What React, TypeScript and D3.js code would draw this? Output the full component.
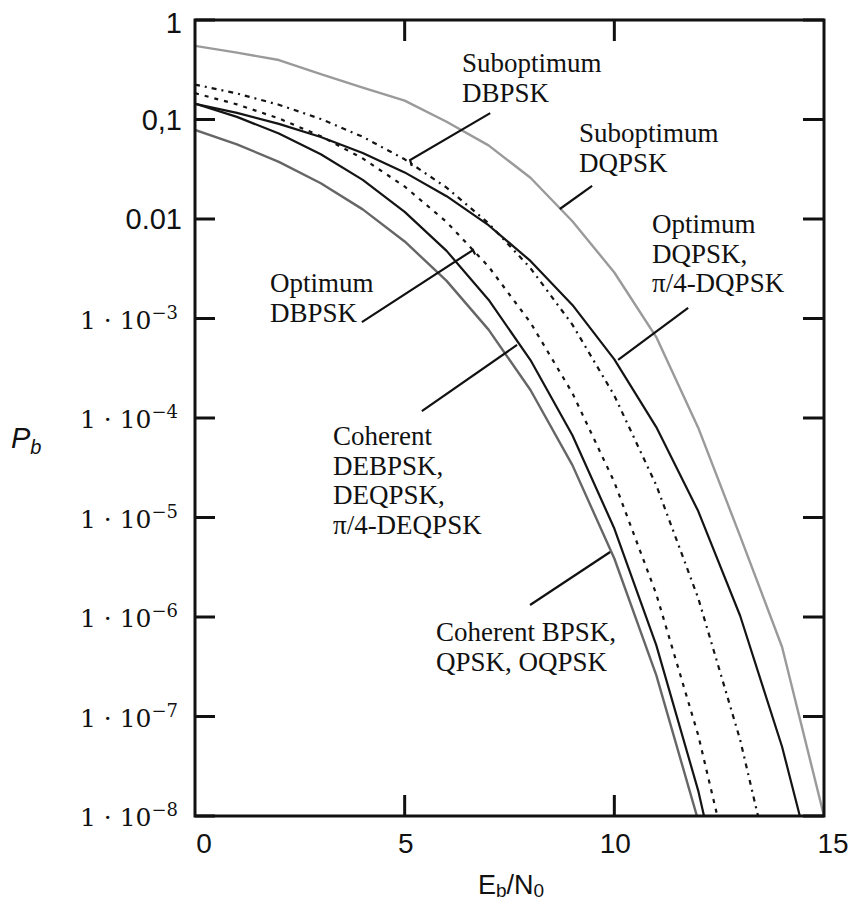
import React from "react";
import * as d3 from "d3";

// Eb/N0 in dB
const snrDb = [0, 1, 2, 3, 4, 5, 6, 7, 8, 9, 10, 11, 12, 13, 14, 15];

// Bit error probabilities
const coherentBpsk = [0.0786, 0.0563, 0.0375, 0.0229, 0.0125, 0.00595, 0.00239, 7.73e-4, 1.91e-4, 3.36e-5, 3.87e-6, 2.61e-7, 9.0e-9, 1.3e-10];
const coherentDebpsk = [0.1448, 0.1063, 0.0722, 0.0448, 0.0247, 0.0118, 0.00478, 1.545e-3, 3.82e-4, 6.72e-5, 7.74e-6, 5.22e-7, 1.8e-8, 2.6e-10];
const optimumDbpsk = [0.1839, 0.142, 0.1025, 0.068, 0.0406, 0.0212, 0.00933, 3.33e-3, 9.1e-4, 1.78e-4, 2.27e-5, 1.7e-6, 6.5e-8, 1.08e-9];
const suboptimumDbpsk = [0.2247, 0.1826, 0.1407, 0.1013, 0.067, 0.0398, 0.0207, 0.00907, 0.00321, 8.68e-4, 1.68e-4, 2.11e-5, 1.55e-6, 5.84e-8, 9.3e-10];
const optimumDqpsk = [0.1439, 0.1165, 0.0904, 0.0666, 0.046, 0.0294, 0.01696, 0.00866, 0.00379, 1.37e-3, 3.88e-4, 8.1e-5, 1.16e-5, 1.03e-6, 4.97e-8, 1.13e-9];
const suboptimumDqpsk = [0.55, 0.47, 0.396, 0.286, 0.209, 0.155, 0.095, 0.055, 0.026, 0.0095, 0.0029, 6.5e-4, 8e-5, 6.5e-6, 5e-7, 1e-8];

const xTicks = [0, 5, 10, 15];
const xInnerTicks = [5, 10];
const yTicks = [1, 0.1, 0.01, 1e-3, 1e-4, 1e-5, 1e-6, 1e-7, 1e-8];
const yPlainLabels = ["1", "0,1", "0.01"];
const yExpLabels = ["−3", "−4", "−5", "−6", "−7", "−8"];

// annotation pointer lines, in data units [dB, Pb]
const pointerSubDbpsk = [[7.04, 0.116], [5.13, 0.0392], [5.17, 0.0341]];
const pointerSubDqpsk = [[9.47, 0.0215], [8.7, 0.0126]];
const pointerOptDqpsk = [[11.76, 1.28e-3], [10.09, 3.83e-4]];
const pointerOptDbpsk = [[3.98, 9.2e-4], [6.63, 4.88e-3], [6.68, 4.4e-3]];
const pointerDe = [[5.41, 1.17e-4], [7.68, 5.42e-4]];
const pointerBpsk = [[7.99, 1.32e-6], [9.9, 4.5e-6]];

const W = 855;
const H = 910;
const L = 195, R = 824, T = 20, B = 816;

export default function App() {
  const x = d3.scaleLinear().domain([0, 15]).range([L, R]);
  const y = d3.scaleLog().domain([1e-8, 1]).range([B, T]);

  const toPts = (vals: number[]) => vals.map((v, i) => [snrDb[i], v] as [number, number]);
  const line = d3
    .line<[number, number]>()
    .x((d) => x(d[0]))
    .y((d) => y(d[1]));

  const series = [
    { data: suboptimumDqpsk, color: "#9a9a9a", width: 2.4, dash: undefined },
    { data: optimumDqpsk, color: "#141414", width: 2.2, dash: undefined },
    { data: suboptimumDbpsk, color: "#141414", width: 2.2, dash: "5,5,2,5" },
    { data: optimumDbpsk, color: "#141414", width: 2.2, dash: "4,6" },
    { data: coherentDebpsk, color: "#141414", width: 2.2, dash: undefined },
    { data: coherentBpsk, color: "#666666", width: 2.4, dash: undefined },
  ];

  const pointers = [pointerSubDbpsk, pointerSubDqpsk, pointerOptDqpsk, pointerOptDbpsk, pointerDe, pointerBpsk];

  const serif = "'Liberation Serif', 'Times New Roman', serif";
  const sans = "'Liberation Sans', Arial, sans-serif";
  const mathSerif = "'DejaVu Serif', serif";

  const labels = [
    { x: 462, y: 72, lines: ["Suboptimum", "DBPSK"] },
    { x: 579, y: 142, lines: ["Suboptimum", "DQPSK"] },
    { x: 652, y: 233, lines: ["Optimum", "DQPSK,", "π/4-DQPSK"] },
    { x: 270, y: 292, lines: ["Optimum", "DBPSK"] },
    { x: 333, y: 445, lines: ["Coherent", "DEBPSK,", "DEQPSK,", "π/4-DEQPSK"] },
    { x: 436, y: 641, lines: ["Coherent BPSK,", "QPSK, OQPSK"] },
  ];

  return (
    <svg
      width={W}
      height={H}
      style={{ position: "absolute", left: 0, top: 0, background: "#fff" }}
    >
      <defs>
        <clipPath id="plotClip">
          <rect x={L} y={T} width={R - L} height={B - T} />
        </clipPath>
      </defs>
      <rect x={0} y={0} width={W} height={H} fill="#fff" />

      <g clipPath="url(#plotClip)">
        {series.map((s, i) => (
          <path
            key={i}
            d={line(toPts(s.data)) || ""}
            fill="none"
            stroke={s.color}
            strokeWidth={s.width}
            strokeDasharray={s.dash}
            strokeLinejoin="round"
          />
        ))}
      </g>

      {/* pointers */}
      {pointers.map((p, i) => (
        <path
          key={i}
          d={line(p as [number, number][]) || ""}
          fill="none"
          stroke="#111"
          strokeWidth={2.2}
        />
      ))}

      {/* frame */}
      <rect x={L} y={T} width={R - L} height={B - T} fill="none" stroke="#111" strokeWidth={3} />

      {/* y ticks both sides */}
      {yTicks.map((t, i) => (
        <g key={i}>
          <line x1={L} x2={L + 20} y1={y(t)} y2={y(t)} stroke="#111" strokeWidth={3} />
          <line x1={R - 21} x2={R} y1={y(t)} y2={y(t)} stroke="#111" strokeWidth={3} />
        </g>
      ))}
      {/* x ticks top and bottom */}
      {xInnerTicks.map((t, i) => (
        <g key={i}>
          <line x1={x(t)} x2={x(t)} y1={T} y2={T + 21} stroke="#111" strokeWidth={3} />
          <line x1={x(t)} x2={x(t)} y1={B} y2={B - 21} stroke="#111" strokeWidth={3} />
        </g>
      ))}

      {/* y tick labels */}
      {yTicks.slice(0, 3).map((t, i) => (
        <text
          key={i}
          x={182}
          y={y(t) + (i === 0 ? 13 : 10)}
          textAnchor="end"
          fontFamily={sans}
          fontSize={29}
          fill="#111"
        >
          {yPlainLabels[i]}
        </text>
      ))}
      {yTicks.slice(3).map((t, i) => (
        <text key={i} x={178} y={y(t) + 10} textAnchor="end" fontFamily={mathSerif} fontSize={25} fill="#111">
          <tspan>1 · 10</tspan>
          <tspan fontSize={18} dy={-10}>{yExpLabels[i]}</tspan>
        </text>
      ))}

      {/* x tick labels */}
      {xTicks.map((t, i) => (
        <text
          key={i}
          x={x(t) + (i === 0 ? 9 : i === xTicks.length - 1 ? 9 : 1)}
          y={853}
          textAnchor="middle"
          fontFamily={sans}
          fontSize={28}
          fill="#111"
        >
          {t}
        </text>
      ))}

      {/* axis titles */}
      <text x={11} y={448} fontFamily={sans} fontSize={29} fontStyle="italic" fill="#111">
        P<tspan fontSize={20} dy={6}>b</tspan>
      </text>
      <text x={511} y={894} textAnchor="middle" fontFamily={sans} fontSize={27} fill="#111">
        E<tspan fontSize={19} dy={3}>b</tspan>
        <tspan dy={-3}>/N</tspan>
        <tspan fontSize={19} dy={3}>0</tspan>
      </text>

      {/* curve annotations */}
      {labels.map((lb, i) => (
        <text key={i} x={lb.x} y={lb.y} fontFamily={serif} fontSize={27} fill="#111">
          {lb.lines.map((s, j) => (
            <tspan key={j} x={lb.x} dy={j === 0 ? 0 : 29.5}>
              {s}
            </tspan>
          ))}
        </text>
      ))}
    </svg>
  );
}
